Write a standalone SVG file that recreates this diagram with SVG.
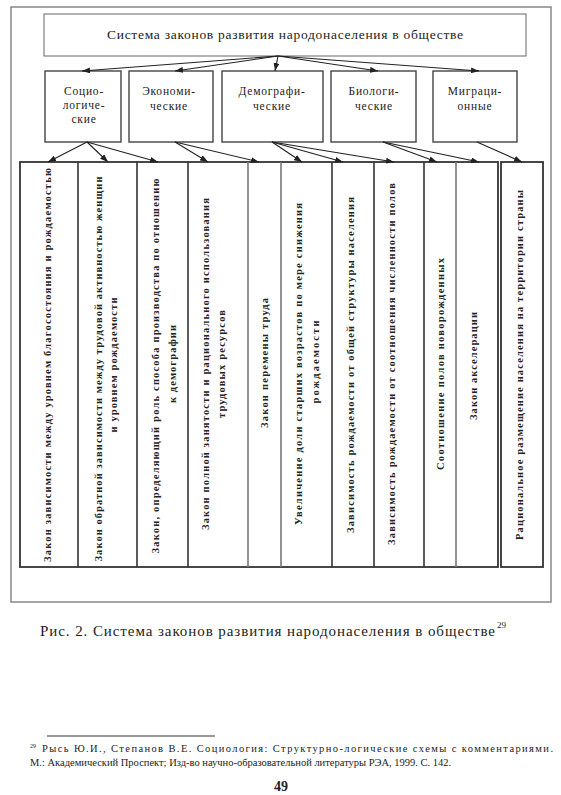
<svg xmlns="http://www.w3.org/2000/svg" width="561" height="795" viewBox="0 0 561 795">
<style>
.box{fill:#fff;stroke:#444;stroke-width:1.4}
.thin{fill:#fff;stroke:#666;stroke-width:1}
.frame{fill:none;stroke:#888;stroke-width:1.5}
.col{fill:none;stroke:#333;stroke-width:1.8}
.div{stroke:#333;stroke-width:1.6}
.divl{stroke:#777;stroke-width:1.6}
.con{stroke:#222;stroke-width:1.1;fill:none;marker-end:url(#ah)}
.t{font-family:"Liberation Serif","Times New Roman","DejaVu Serif",serif;fill:#222}
.cat{font-size:11.5px;letter-spacing:0.8px;text-anchor:middle}
.v{font-size:10.5px;font-weight:bold;text-anchor:middle}
</style>
<defs>
<marker id="ah" viewBox="0 0 8 6" refX="8" refY="3" markerWidth="8" markerHeight="6" orient="auto" markerUnits="userSpaceOnUse"><path d="M0,0 L8,3 L0,6 z" fill="#222"/></marker>
</defs>
<rect width="561" height="795" fill="#fff"/>
<rect class="frame" x="11" y="7" width="540" height="595"/>

<g id="root">
<rect class="thin" x="44" y="14" width="482" height="42"/>
<text class="t" x="285" y="39" font-size="13.5" text-anchor="middle" textLength="356" lengthAdjust="spacing">Система законов развития народонаселения в обществе</text>
</g>

<g id="cat-socio">
<rect class="box" x="45" y="71" width="76" height="71"/>
<text class="t cat" x="84" y="95">Социо-</text>
<text class="t cat" x="84" y="109">логиче-</text>
<text class="t cat" x="84" y="123">ские</text>
</g>
<g id="cat-econ">
<rect class="box" x="129" y="71" width="84" height="71"/>
<text class="t cat" x="169" y="95">Экономи-</text>
<text class="t cat" x="169" y="110">ческие</text>
</g>
<g id="cat-demo">
<rect class="box" x="222" y="71" width="101" height="71"/>
<text class="t cat" x="272" y="95">Демографи-</text>
<text class="t cat" x="272" y="110">ческие</text>
</g>
<g id="cat-bio">
<rect class="box" x="331" y="71" width="85" height="71"/>
<text class="t cat" x="374" y="95">Биологи-</text>
<text class="t cat" x="374" y="110">ческие</text>
</g>
<g id="cat-migr">
<rect class="box" x="433" y="71" width="84" height="71"/>
<text class="t cat" x="475" y="95">Миграци-</text>
<text class="t cat" x="475" y="110">онные</text>
</g>

<g id="laws">
<rect class="col" x="20" y="162" width="478" height="405"/>
<line class="div" x1="78" y1="162" x2="78" y2="567"/>
<line class="div" x1="137" y1="162" x2="137" y2="567"/>
<line class="div" x1="188" y1="162" x2="188" y2="567"/>
<line class="divl" x1="248" y1="162" x2="248" y2="567"/>
<line class="divl" x1="281" y1="162" x2="281" y2="567"/>
<line class="div" x1="332" y1="162" x2="332" y2="567"/>
<line class="div" x1="374" y1="162" x2="374" y2="567"/>
<line class="div" x1="424" y1="162" x2="424" y2="567"/>
<line class="divl" x1="456" y1="162" x2="456" y2="567"/>
<rect class="col" x="501" y="162" width="42" height="405"/>
</g>

<g id="law1"><text class="t v" transform="translate(51,365) rotate(-90)" textLength="394" lengthAdjust="spacing">Закон зависимости между уровнем благосостояния и рождаемостью</text></g>
<g id="law2">
<text class="t v" transform="translate(102,369) rotate(-90)" textLength="385" lengthAdjust="spacing">Закон обратной зависимости между трудовой активностью женщин</text>
<text class="t v" transform="translate(117,365) rotate(-90)" textLength="135" lengthAdjust="spacing">и уровнем рождаемости</text>
</g>
<g id="law3">
<text class="t v" transform="translate(159,366) rotate(-90)" textLength="375" lengthAdjust="spacing">Закон, определяющий роль способа производства по отношению</text>
<text class="t v" transform="translate(176,364) rotate(-90)" textLength="78" lengthAdjust="spacing">к демографии</text>
</g>
<g id="law4">
<text class="t v" transform="translate(209,364) rotate(-90)" textLength="332" lengthAdjust="spacing">Закон полной занятости и рационального использования</text>
<text class="t v" transform="translate(225,364) rotate(-90)" textLength="108" lengthAdjust="spacing">трудовых ресурсов</text>
</g>
<g id="law5"><text class="t v" transform="translate(268,363) rotate(-90)" textLength="130" lengthAdjust="spacing">Закон перемены труда</text></g>
<g id="law6">
<text class="t v" transform="translate(302,364) rotate(-90)" textLength="322" lengthAdjust="spacing">Увеличение доли старших возрастов по мере снижения</text>
<text class="t v" transform="translate(319,362) rotate(-90)" textLength="83" lengthAdjust="spacing">рождаемости</text>
</g>
<g id="law7"><text class="t v" transform="translate(354,365) rotate(-90)" textLength="336" lengthAdjust="spacing">Зависимость рождаемости от общей структуры населения</text></g>
<g id="law8"><text class="t v" transform="translate(395,364) rotate(-90)" textLength="362" lengthAdjust="spacing">Зависимость рождаемости от соотношения численности полов</text></g>
<g id="law9"><text class="t v" transform="translate(444,364) rotate(-90)" textLength="212" lengthAdjust="spacing">Соотношение полов новорожденных</text></g>
<g id="law10"><text class="t v" transform="translate(477,366) rotate(-90)" textLength="108" lengthAdjust="spacing">Закон акселерации</text></g>
<g id="law11"><text class="t v" transform="translate(523,365) rotate(-90)" textLength="350" lengthAdjust="spacing">Рациональное размещение населения на территории страны</text></g>

<g id="connectors">
<line class="con" x1="278" y1="56" x2="82" y2="71"/>
<line class="con" x1="278" y1="56" x2="175" y2="71"/>
<line class="con" x1="278" y1="56" x2="275" y2="71"/>
<line class="con" x1="278" y1="56" x2="378" y2="71"/>
<line class="con" x1="278" y1="56" x2="479" y2="71"/>
<line class="con" x1="87" y1="142" x2="48" y2="162"/>
<line class="con" x1="87" y1="142" x2="108" y2="162"/>
<line class="con" x1="87" y1="142" x2="158" y2="162"/>
<line class="con" x1="175" y1="142" x2="208" y2="162"/>
<line class="con" x1="175" y1="142" x2="259" y2="162"/>
<line class="con" x1="272" y1="142" x2="302" y2="162"/>
<line class="con" x1="272" y1="142" x2="343" y2="162"/>
<line class="con" x1="272" y1="142" x2="394" y2="162"/>
<line class="con" x1="383" y1="142" x2="437" y2="162"/>
<line class="con" x1="383" y1="142" x2="479" y2="162"/>
<line class="con" x1="477" y1="142" x2="522" y2="162"/>
</g>

<text class="t" x="40" y="636" font-size="15" textLength="455" lengthAdjust="spacing">Рис. 2. Система законов развития народонаселения в обществе</text>
<text class="t" x="497" y="628" font-size="9">29</text>

<line x1="47" y1="736" x2="215" y2="736" stroke="#777" stroke-width="1.5"/>
<text class="t" x="30" y="748" font-size="6">29</text>
<text class="t" x="42" y="752" font-size="10.5" textLength="511" lengthAdjust="spacing">Рысь Ю.И., Степанов В.Е. Социология: Структурно-логические схемы с комментариями.</text>
<text class="t" x="30" y="766" font-size="10.5">М.: Академический Проспект; Изд-во научно-образовательной литературы РЭА, 1999. С. 142.</text>
<text class="t" x="281" y="791" font-size="14" font-weight="bold" text-anchor="middle">49</text>
</svg>
